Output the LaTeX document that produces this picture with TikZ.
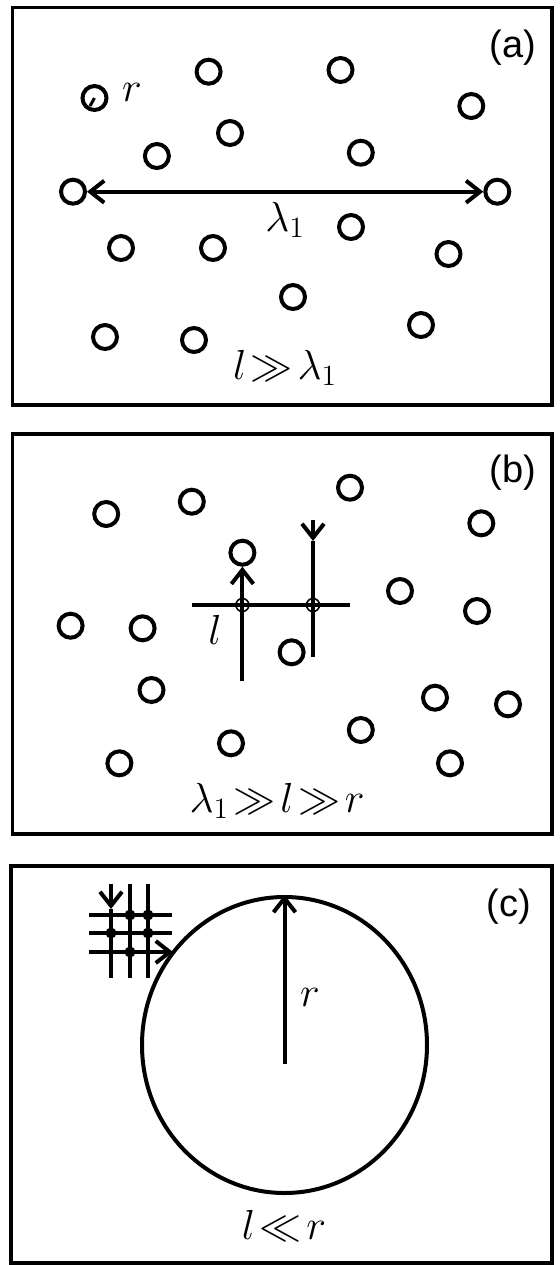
\RequirePackage{fix-cm}
\documentclass[tikz,border=0pt]{standalone}
\usepackage{fontspec}
\setsansfont{Liberation Sans}
\usetikzlibrary{arrows.meta, shapes.geometric}

\begin{document}
\begin{tikzpicture}[x=0.5pt, y=-0.5pt,
    grain/.style={circle, draw, line width=2pt, inner sep=0pt, minimum size=12pt},
    panelbox/.style={line width=1.8pt},
    probe/.style={line width=2pt},
    knot/.style={circle, draw, line width=0.8pt, inner sep=0pt, minimum size=6.5pt},
    hit/.style={circle, fill, inner sep=0pt, minimum size=5.5pt},
    tag/.style={font=\sffamily\fontsize{19}{22}\selectfont},
    sym/.style={font=\fontsize{21}{25}\selectfont},
    >={Straight Barb[length=7pt, width=11pt]}]
  \useasboundingbox (0,0) rectangle (559,1265);
  % Panel frames
  \draw[panelbox] (12.5,7.5) rectangle (552,405);
  \draw[panelbox] (12.5,434) rectangle (552,834);
  \draw[panelbox] (11,866) rectangle (552,1263);

  % (a) scatterers, long wavelength
  \node[tag] (atag) at (513,48) {(a)};
  \node[grain] (a1) at (94.5,98) {};
  \node[grain] (a2) at (208.6,71.7) {};
  \node[grain] (a3) at (340.5,70) {};
  \node[grain] (a4) at (471.3,106) {};
  \node[grain] (a5) at (156.9,156) {};
  \node[grain] (a6) at (230,133) {};
  \node[grain] (a7) at (360.8,152.7) {};
  \node[grain] (a8) at (73,191.7) {};
  \node[grain] (a9) at (497.3,191.7) {};
  \node[grain] (a10) at (121,248) {};
  \node[grain] (a11) at (213,248) {};
  \node[grain] (a12) at (351,227) {};
  \node[grain] (a13) at (448.5,254) {};
  \node[grain] (a14) at (293,297) {};
  \node[grain] (a15) at (105,337) {};
  \node[grain] (a16) at (194,340) {};
  \node[grain] (a17) at (421,325) {};
  \coordinate (arim) at (90,106);
  \draw[line width=1.5pt] (a1.center) -- (arim);
  \node[sym] (ar) at (132,92) {$r$};
  \draw[probe,<->] (a8) -- (a9);
  \node[sym] (alam) at (285,220) {$\lambda_1$};
  \node[sym] (arel) at (285,368) {$l\!\gg\!\lambda_1$};

  % (b) scatterers, intermediate scale
  \node[tag] (btag) at (513,473) {(b)};
  \node[grain] (b1) at (106.2,514) {};
  \node[grain] (b2) at (191.8,501.7) {};
  \node[grain] (b3) at (350,487.7) {};
  \node[grain] (b4) at (481.3,523.3) {};
  \node[grain] (b5) at (242.4,552.7) {};
  \node[grain] (b6) at (400,591) {};
  \node[grain] (b7) at (477,611) {};
  \node[grain] (b8) at (70.6,625.7) {};
  \node[grain] (b9) at (142.6,628.3) {};
  \node[grain] (b10) at (291.6,652.3) {};
  \node[grain] (b11) at (151.5,690) {};
  \node[grain] (b12) at (435,697.7) {};
  \node[grain] (b13) at (508,704.3) {};
  \node[grain] (b14) at (360.8,730) {};
  \node[grain] (b15) at (231,743.3) {};
  \node[grain] (b16) at (119.4,763.3) {};
  \node[grain] (b17) at (450,763.3) {};
  \coordinate (bw) at (192,605);
  \coordinate (be) at (350,605);
  \coordinate (bup) at (242.4,681);
  \coordinate (bdn) at (313,520);
  \coordinate (bmid) at (313,541);
  \coordinate (bend) at (313,657);
  \draw[probe] (bw) -- (be);
  \draw[probe,->] (bup) -- (b5);
  \draw[probe,->] (bdn) -- (bmid);
  \draw[probe] (bmid) -- (bend);
  \node[knot] (bx1) at (242.4,605) {};
  \node[knot] (bx2) at (313,605) {};
  \node[sym] (bl) at (215,630) {$l$};
  \node[sym] (brel) at (277,801) {$\lambda_1\!\gg\! l \!\gg\! r$};

  % (c) single large scatterer
  \node[tag] (ctag) at (509,907) {(c)};
  \node[ellipse, draw, line width=2pt, inner sep=0pt,
        minimum width=142.5pt, minimum height=148pt] (cell) at (284.5,1045) {};
  \coordinate (core) at (284.5,1064);
  \draw[probe,->] (core) -- (cell.north);
  \node[sym] (cr) at (310,997) {$r$};
  % fine grid touching the surface
  \draw[probe] (89,915) -- (172,915);
  \draw[probe] (89,933) -- (172,933);
  \coordinate (gw) at (89,952);
  \coordinate (ge) at (173,952);
  \draw[probe,->] (gw) -- (ge);
  \coordinate (gtop) at (111,884);
  \coordinate (gtip) at (111,909);
  \coordinate (gbot) at (111,978);
  \draw[probe,->] (gtop) -- (gtip);
  \draw[probe] (gtip) -- (gbot);
  \draw[probe] (130,884) -- (130,978);
  \draw[probe] (148,884) -- (148,978);
  \node[hit] (d1) at (130,915) {};
  \node[hit] (d2) at (148,915) {};
  \node[hit] (d3) at (111,933) {};
  \node[hit] (d4) at (148,933) {};
  \node[hit] (d5) at (130,952) {};
  \node[sym] (crel) at (284,1226) {$l\!\ll\! r$};
\end{tikzpicture}
\end{document}
